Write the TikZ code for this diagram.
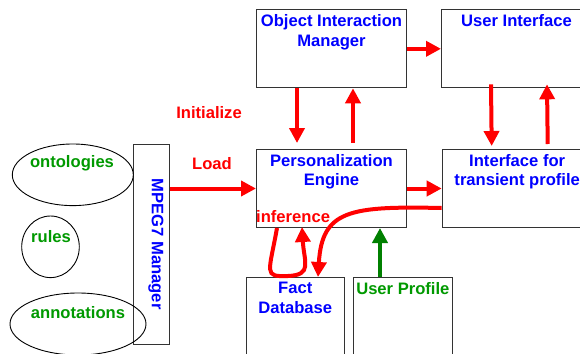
\documentclass[tikz,border=0pt]{standalone}
\usepackage{fontspec}
\setmainfont{Liberation Sans}
\usetikzlibrary{arrows.meta, positioning, calc, shapes.geometric}
\definecolor{flowred}{HTML}{FF0000}
\definecolor{titleblue}{HTML}{0000FF}
\definecolor{datagreen}{HTML}{009900}
\definecolor{linkgreen}{HTML}{008000}

\tikzset{
  module/.style={draw=black!80, line width=1pt, minimum width=150pt, minimum height=78pt, inner sep=0pt, anchor=north west},
  modtitle/.style={font=\bfseries\fontsize{16.6}{19.5}\selectfont, text=titleblue, align=center, inner sep=0pt},
  redlabel/.style={font=\bfseries\fontsize{16.6}{19.5}\selectfont, text=flowred, inner sep=0pt},
  store/.style={ellipse, draw=black, line width=0.9pt, inner sep=0pt},
  storetext/.style={font=\bfseries\fontsize{16.6}{19.5}\selectfont, text=datagreen, inner sep=0pt},
  flow/.style={draw=flowred, line width=4pt, -{Triangle[length=15pt,width=15pt]}},
}

\begin{document}
\begin{tikzpicture}[x=1pt, y=-1pt]
  \useasboundingbox (0,0) rectangle (580,353);
  \clip (0,0) rectangle (580,353);

  % Modules
  \node[module] (oim) at (256,9.3) {};
  \node[module] (ui) at (441,9.3) {};
  \node[module] (pe) at (256,149) {};
  \node[module] (itp) at (441.7,149) {};
  \node[module, minimum width=97.5pt, minimum height=100pt] (fact) at (246,277) {};
  \node[module, minimum width=98.7pt, minimum height=100pt] (up) at (353,277) {};
  \node[module, minimum width=36.3pt, minimum height=200pt] (mpeg) at (132.7,144) {};

  \node[modtitle, below=5pt of oim.north] (oimtext) {Object Interaction\\Manager};
  \node[modtitle, below=5pt of ui.north] (uitext) {User Interface};
  \node[modtitle, below=5pt of pe.north] (petext) {Personalization\\Engine};
  \node[modtitle, below=5pt of itp.north] (itptext) {Interface for\\transient profile};
  \node[modtitle, below=5pt of fact.north] (facttext) {Fact\\Database};
  \node[modtitle, text=datagreen, below=5pt of up.north] (uptext) {User Profile};
  \node[modtitle, rotate=-90] (mpegtext) at (156,244) {MPEG7 Manager};

  % Data sources
  \node[store, minimum width=121pt, minimum height=61.6pt] (onto) at (72.8,174.8) {};
  \node[store, minimum width=57.6pt, minimum height=61.6pt] (rules) at (50.5,246.8) {};
  \node[store, minimum width=136pt, minimum height=62pt] (anno) at (78,324) {};
  \node[storetext] (ontotext) at (72,163) {ontologies};
  \node[storetext] (rulestext) at (51,237) {rules};
  \node[storetext] (annotext) at (78,313) {annotations};

  % Labels
  \node[redlabel] (init) at (209,113) {Initialize};
  \node[redlabel] (load) at (212,164) {Load};
  \node[redlabel, anchor=west] (infer) at (256,217) {inference};

  % Flows
  \draw[flow] (oim.east) -- (ui.west);
  \draw[flow] ($(oim.south west)+(41,0)$) -- ($(pe.north west)+(41,-6)$);
  \draw[flow] ($(pe.north west)+(97,-6)$) -- ($(oim.south west)+(97,0)$);
  \draw[flow] ($(ui.south west)+(50,-4)$) -- ($(itp.north west)+(50,-3)$);
  \draw[flow] ($(itp.north west)+(106,-5)$) -- ($(ui.south west)+(106,-4)$);
  \draw[flow] (mpeg.east |- pe.west) -- (pe.west);
  \draw[flow] (pe.east) -- (itp.west);
  \draw[flow] ($(pe.south west)+(21,0)$) .. controls +(-8,45) and +(-25,1) .. ($(fact.north west)+(42,-1)$)
    .. controls +(25,-1) and +(2,35) .. ($(pe.south west)+(46,-1)$);
  \draw[flow] ($(itp.south west)+(0,-20)$) .. controls +(-92,-2) and +(4,-67) .. ($(fact.north west)+(72,0)$);
  \draw[flow, draw=linkgreen] ($(up.north west)+(27,0)$) -- ($(pe.south west)+(124,0)$);
\end{tikzpicture}
\end{document}
